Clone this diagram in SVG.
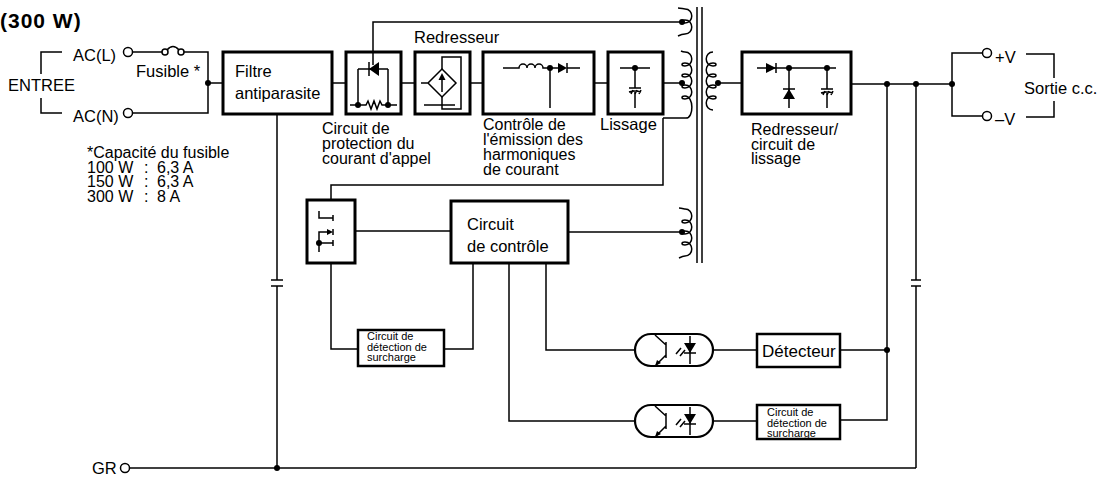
<svg xmlns="http://www.w3.org/2000/svg" width="1109" height="488" viewBox="0 0 1109 488">
<style>
.w{stroke:#000;stroke-width:1.5;fill:none}
.box{stroke:#000;stroke-width:3;fill:#fff}
.opto{stroke:#000;stroke-width:2.2;fill:#fff}
.f{fill:#000;stroke:none}
.t{font-family:"Liberation Sans",Arial,Helvetica,sans-serif;font-size:16.5px;fill:#000}
.m{font-family:"Liberation Sans",Arial,Helvetica,sans-serif;font-size:16px;fill:#000}
.s{font-family:"Liberation Sans",Arial,Helvetica,sans-serif;font-size:11px;fill:#000}
.h{font-family:"Liberation Sans",Arial,Helvetica,sans-serif;font-size:21px;font-weight:bold;fill:#000;letter-spacing:1px}
</style>
<rect width="1109" height="488" fill="#fff"/>
<text class="h" x="0" y="28">(300 W)</text>

<g id="connectors">
  <path class="w" d="M62,52 H41 V74 M41,98 V113 H62"/>
  <path class="w" d="M132.5,52 H162 M184,52 H208 V113 H132.5"/>
  <path class="w" d="M167,50 Q173,43 179,50"/>
  <circle cx="165" cy="52" r="3" fill="#fff" stroke="#000" stroke-width="1.5"/>
  <circle cx="181" cy="52" r="3" fill="#fff" stroke="#000" stroke-width="1.5"/>
  <circle class="f" cx="208" cy="83" r="3"/>
  <path class="w" d="M208,83 H223 M332,83 H346 M401,83 H415 M470,83 H483 M594,83 H608 M663,83 H682"/>
  <path class="w" d="M373,52 V22 H682"/>
  <path class="w" d="M718,83 H742"/>
  <path class="w" d="M851,84 H952 M983,53 H952 V116 H983"/>
  <circle class="f" cx="887" cy="84" r="3"/>
  <circle class="f" cx="916" cy="84" r="3"/>
  <circle class="f" cx="952" cy="84" r="3"/>
  <path class="w" d="M1026,54 H1054 V78 M1054,101 V117 H1026"/>
  <path class="w" d="M887,84 V420 H840"/>
  <circle class="f" cx="887" cy="350" r="3"/>
  <path class="w" d="M916,84 V280 M916,286 V468"/>
  <path class="w" d="M911,280 H921 M911,286 H921"/>
  <path class="w" d="M277,114 V280 M277,286 V468"/>
  <path class="w" d="M271,280 H283 M271,286 H283"/>
  <path class="w" d="M129.5,468 H916"/>
  <circle class="f" cx="277" cy="468" r="3"/>
  <path class="w" d="M663,118 V185 H331 V200"/>
  <path class="w" d="M342,218 V231 H451"/>
  <path class="w" d="M568,232 H682"/>
  <path class="w" d="M331,263 V349 H358"/>
  <path class="w" d="M444,349 H473 V263"/>
  <path class="w" d="M546,263 V350 H635"/>
  <path class="w" d="M509,263 V421 H635"/>
  <path class="w" d="M713,350 H757 M840,350 H887"/>
  <path class="w" d="M713,421 H757"/>
</g>

<g id="terminals">
  <circle cx="128" cy="52" r="4.5" fill="#fff" stroke="#000" stroke-width="1.5"/>
  <circle cx="128" cy="113" r="4.5" fill="#fff" stroke="#000" stroke-width="1.5"/>
  <circle cx="987" cy="53" r="4.5" fill="#fff" stroke="#000" stroke-width="1.5"/>
  <circle cx="987" cy="116" r="4.5" fill="#fff" stroke="#000" stroke-width="1.5"/>
  <circle cx="125" cy="468" r="4.5" fill="#fff" stroke="#000" stroke-width="1.5"/>
  <text class="t" x="8" y="91">ENTREE</text>
  <text class="t" x="73" y="61">AC(L)</text>
  <text class="t" x="73" y="122">AC(N)</text>
  <text class="t" x="136" y="77">Fusible *</text>
  <text class="m" x="87" y="158">*Capacité du fusible</text>
  <text class="m" x="87" y="172.5">100 W<tspan x="144">:</tspan><tspan x="157">6,3 A</tspan></text>
  <text class="m" x="87" y="187">150 W<tspan x="144">:</tspan><tspan x="157">6,3 A</tspan></text>
  <text class="m" x="87" y="201.5">300 W<tspan x="144">:</tspan><tspan x="157">8 A</tspan></text>
  <text class="t" x="995" y="63">+V</text>
  <text class="t" x="995" y="125">–V</text>
  <text class="t" x="1024" y="94">Sortie c.c.</text>
  <text class="t" x="92" y="474">GR</text>
</g>

<g id="filter">
  <rect class="box" x="223" y="52" width="109" height="62"/>
  <text class="t" x="235" y="77">Filtre</text>
  <text class="t" x="235" y="99">antiparasite</text>
</g>

<g id="inrush">
  <rect class="box" x="346" y="52" width="55" height="62"/>
  <path class="w" d="M358,69 H388 M358,69 V105 M388,69 V105"/>
  <path class="f" d="M379,62 L379,76 L369,69 Z"/>
  <path class="w" d="M369,62 V76 M373,52 V65"/>
  <path class="w" d="M350,105 H366 L368,101 L371,109 L374,101 L377,109 L380,101 L382,105 H397"/>
  <circle class="f" cx="358" cy="105" r="3"/>
  <circle class="f" cx="388" cy="105" r="3"/>
  <text class="m" x="322" y="134">Circuit de</text>
  <text class="m" x="322" y="149">protection du</text>
  <text class="m" x="322" y="164">courant d'appel</text>
</g>

<g id="rectifier">
  <rect class="box" x="415" y="52" width="55" height="62"/>
  <path class="w" d="M442,69 L456,83 L442,97 L428,83 Z M421,83 H428"/>
  <path class="w" d="M442,69 V57 H461 V109 H442 V97 M424,105 H455"/>
  <path class="w" d="M442,92 V78"/>
  <path class="f" d="M438.5,80 L442,73 L445.5,80 Z"/>
  <text class="t" x="414" y="43">Redresseur</text>
</g>

<g id="pfc">
  <rect class="box" x="483" y="52" width="111" height="62"/>
  <path class="w" d="M503,68 H519 a4,4 0 0 1 8,0 a4,4 0 0 1 8,0 a4,4 0 0 1 8,0 H558 M567,68 H580 M550,68 V108"/>
  <path class="f" d="M558,63 L558,73 L567,68 Z"/>
  <path class="w" d="M567,63 V73"/>
  <circle class="f" cx="550" cy="68" r="3"/>
  <text class="m" x="483" y="130">Contrôle de</text>
  <text class="m" x="483" y="145">l'émission des</text>
  <text class="m" x="483" y="160">harmoniques</text>
  <text class="m" x="483" y="175">de courant</text>
</g>

<g id="smoothing">
  <rect class="box" x="608" y="52" width="55" height="62"/>
  <path class="w" d="M620,68 H650 M635,68 V88 M635,92 V108 M629,88 H641"/>
  <path class="w" d="M629,92 Q635,90 641,92 M631,94 L633,90 M635,94 L637,90 M639,94 L641,90"/>
  <circle class="f" cx="635" cy="68" r="3"/>
  <text class="t" x="600" y="130">Lissage</text>
</g>

<g id="transformer">
  <path class="w" d="M697,7 V263 M702,7 V263"/>
  <path class="w" d="M681,51 C683,52 684,52 685,52 C694,52 694,66 685,66 C681,66 681,63 685,63 C694,63 694,77 685,77 C681,77 681,74 685,74 C694,74 694,88 685,88 C681,88 681,85 685,85 C694,85 694,99 685,99 C681,99 681,96 685,96 C694,96 694,118 686,118 H663"/>
  <circle class="f" cx="682" cy="83" r="3"/>
  <path class="w" d="M678,8 C681,8 683,9 685,9 C694,9 694,23 685,23 C681,23 681,20 685,20 C694,20 694,34 685,34 C682,34 680,35 678,36"/>
  <circle class="f" cx="682" cy="22" r="3"/>
  <path class="w" d="M679,208 C682,208 684,209 685,209 C694,209 694,223 685,223 C681,223 681,220 685,220 C694,220 694,234 685,234 C681,234 681,231 685,231 C694,231 694,245 685,245 C681,245 681,242 685,242 C694,242 694,256 685,256 C683,256 681,257 679,258"/>
  <circle class="f" cx="682" cy="232" r="3"/>
  <path class="w" d="M713,52 C704,52 704,66 713,66 C717,66 717,63 713,63 C704,63 704,77 713,77 C717,77 717,74 713,74 C704,74 704,88 713,88 C717,88 717,85 713,85 C704,85 704,99 713,99 C717,99 717,96 713,96 C704,96 704,110 713,110"/>
  <circle class="f" cx="718" cy="83" r="3"/>
</g>

<g id="output-rectifier">
  <rect class="box" x="742" y="52" width="109" height="62"/>
  <path class="w" d="M757,68 H836 M789,68 V108 M827,68 V89 M827,93 V108"/>
  <path class="f" d="M766,63 L766,73 L776,68 Z"/>
  <path class="w" d="M776,63 V73"/>
  <path class="f" d="M783,99 L795,99 L789,89 Z"/>
  <path class="w" d="M783,89 H795 M821,89 H833 M821,93 Q827,91 833,93 M823,95 L825,91 M827,95 L829,91 M831,95 L833,91"/>
  <circle class="f" cx="789" cy="68" r="3"/>
  <circle class="f" cx="827" cy="68" r="3"/>
  <text class="m" x="751" y="135">Redresseur/</text>
  <text class="m" x="751" y="150">circuit de</text>
  <text class="m" x="751" y="164">lissage</text>
</g>

<g id="switch">
  <rect class="box" x="307" y="200" width="48" height="63"/>
  <path class="w" d="M319,211 V218 H333 M333,215 V221"/>
  <path class="w" d="M319,252 V232 H328 M333,229 V235 M319,243 H333 M333,240 V246"/>
  <path class="f" d="M327,229 L333,232 L327,235 Z"/>
  <circle class="f" cx="319" cy="243" r="3"/>
</g>

<g id="control">
  <rect class="box" x="451" y="201" width="117" height="62"/>
  <text class="t" x="467" y="230">Circuit</text>
  <text class="t" x="467" y="252">de contrôle</text>
</g>

<g id="overload1">
  <rect class="box" x="358" y="330" width="86" height="36" style="stroke-width:2.5"/>
  <text class="s" x="367" y="340">Circuit de</text>
  <text class="s" x="367" y="350.5">détection de</text>
  <text class="s" x="367" y="361">surcharge</text>
</g>

<g id="opto1">
  <rect class="opto" x="635" y="334" width="78" height="32" rx="16"/>
  <path class="w" d="M666,342 V358 M655,335 L666,345 M666,355 L656,365"/>
  <path class="f" d="M655,366 L657,360 L661,363 Z"/>
  <path class="w" d="M676,354 L681,348 M680,356 L685,350"/>
  <path class="w" d="M690,336 V364 M684,353 H696"/>
  <path class="f" d="M684,343 L696,343 L690,353 Z"/>
</g>

<g id="opto2">
  <rect class="opto" x="635" y="405" width="78" height="32" rx="16"/>
  <path class="w" d="M666,413 V429 M655,406 L666,416 M666,426 L656,436"/>
  <path class="f" d="M655,437 L657,431 L661,434 Z"/>
  <path class="w" d="M676,425 L681,419 M680,427 L685,421"/>
  <path class="w" d="M690,407 V435 M684,424 H696"/>
  <path class="f" d="M684,414 L696,414 L690,424 Z"/>
</g>

<g id="detector">
  <rect class="box" x="757" y="334" width="83" height="33" style="stroke-width:2.5"/>
  <text class="t" x="762" y="357" style="font-size:17px">Détecteur</text>
</g>

<g id="overload2">
  <rect class="box" x="757" y="405" width="83" height="34" style="stroke-width:2.5"/>
  <text class="s" x="767" y="416">Circuit de</text>
  <text class="s" x="767" y="426.5">détection de</text>
  <text class="s" x="767" y="437">surcharge</text>
</g>
</svg>
